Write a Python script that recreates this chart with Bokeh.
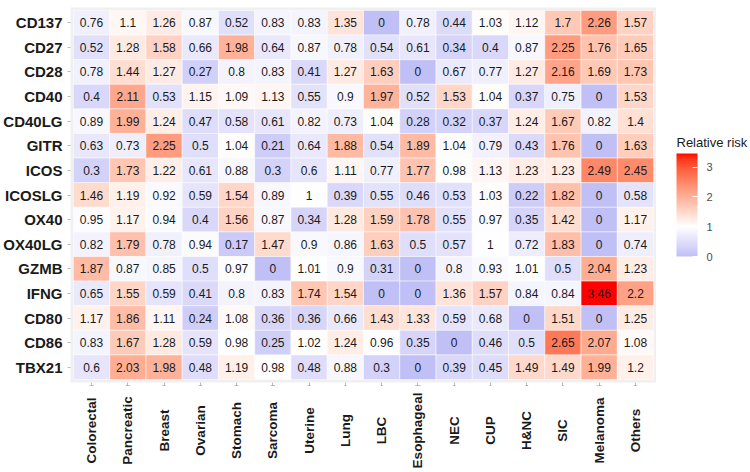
import math
import numpy as np
from bokeh.plotting import figure
from bokeh.models import (ColumnDataSource, LinearColorMapper, ColorBar, FixedTicker,
                          FactorRange, Range1d)
from bokeh.layouts import row, column
from bokeh.core.properties import value
from bokeh.embed import file_html
from bokeh.resources import INLINE

cancers = ["Colorectal", "Pancreatic", "Breast", "Ovarian", "Stomach", "Sarcoma", "Uterine",
           "Lung", "LBC", "Esophageal", "NEC", "CUP", "H&NC", "SIC", "Melanoma", "Others"]
genes = ["CD137", "CD27", "CD28", "CD40", "CD40LG", "GITR", "ICOS", "ICOSLG",
         "OX40", "OX40LG", "GZMB", "IFNG", "CD80", "CD86", "TBX21"]

CD137 = [0.76, 1.1, 1.26, 0.87, 0.52, 0.83, 0.83, 1.35, 0, 0.78, 0.44, 1.03, 1.12, 1.7, 2.26, 1.57]
CD27 = [0.52, 1.28, 1.58, 0.66, 1.98, 0.64, 0.87, 0.78, 0.54, 0.61, 0.34, 0.4, 0.87, 2.25, 1.76, 1.65]
CD28 = [0.78, 1.44, 1.27, 0.27, 0.8, 0.83, 0.41, 1.27, 1.63, 0, 0.67, 0.77, 1.27, 2.16, 1.69, 1.73]
CD40 = [0.4, 2.11, 0.53, 1.15, 1.09, 1.13, 0.55, 0.9, 1.97, 0.52, 1.53, 1.04, 0.37, 0.75, 0, 1.53]
CD40LG = [0.89, 1.99, 1.24, 0.47, 0.58, 0.61, 0.82, 0.73, 1.04, 0.28, 0.32, 0.37, 1.24, 1.67, 0.82, 1.4]
GITR = [0.63, 0.73, 2.25, 0.5, 1.04, 0.21, 0.64, 1.88, 0.54, 1.89, 1.04, 0.79, 0.43, 1.76, 0, 1.63]
ICOS = [0.3, 1.73, 1.22, 0.61, 0.88, 0.3, 0.6, 1.11, 0.77, 1.77, 0.98, 1.13, 1.23, 1.23, 2.49, 2.45]
ICOSLG = [1.46, 1.19, 0.92, 0.59, 1.54, 0.89, 1, 0.39, 0.55, 0.46, 0.53, 1.03, 0.22, 1.82, 0, 0.58]
OX40 = [0.95, 1.17, 0.94, 0.4, 1.56, 0.87, 0.34, 1.28, 1.59, 1.78, 0.55, 0.97, 0.35, 1.42, 0, 1.17]
OX40LG = [0.82, 1.79, 0.78, 0.94, 0.17, 1.47, 0.9, 0.86, 1.63, 0.5, 0.57, 1, 0.72, 1.83, 0, 0.74]
GZMB = [1.87, 0.87, 0.85, 0.5, 0.97, 0, 1.01, 0.9, 0.31, 0, 0.8, 0.93, 1.01, 0.5, 2.04, 1.23]
IFNG = [0.65, 1.55, 0.59, 0.41, 0.8, 0.83, 1.74, 1.54, 0, 0, 1.36, 1.57, 0.84, 0.84, 3.46, 2.2]
CD80 = [1.17, 1.86, 1.11, 0.24, 1.08, 0.36, 0.36, 0.66, 1.43, 1.33, 0.59, 0.68, 0, 1.51, 0, 1.25]
CD86 = [0.83, 1.67, 1.28, 0.59, 0.98, 0.25, 1.02, 1.24, 0.96, 0.35, 0, 0.46, 0.5, 2.65, 2.07, 1.08]
TBX21 = [0.6, 2.03, 1.98, 0.48, 1.19, 0.98, 0.48, 0.88, 0.3, 0, 0.39, 0.45, 1.49, 1.49, 1.99, 1.2]

rows = [CD137, CD27, CD28, CD40, CD40LG, GITR, ICOS, ICOSLG, OX40, OX40LG, GZMB, IFNG, CD80, CD86, TBX21]
legend_ticks = [0, 1, 2, 3]
legend_title = "Relative risk"
midpoint = 1.0

# ---- colour scale (low -> white (midpoint) -> red, interpolated in Lab) ----
def _lin(c):
    c = c / 255.0
    return c / 12.92 if c <= 0.04045 else ((c + 0.055) / 1.055) ** 2.4

def _delin(c):
    c = 12.92 * c if c <= 0.0031308 else 1.055 * c ** (1 / 2.4) - 0.055
    return int(round(min(max(c, 0), 1) * 255))

WP = (0.95047, 1.0, 1.08883)

def rgb2lab(rgb):
    r, g, b = [_lin(c) for c in rgb]
    X = 0.4124 * r + 0.3576 * g + 0.1805 * b
    Y = 0.2126 * r + 0.7152 * g + 0.0722 * b
    Z = 0.0193 * r + 0.1192 * g + 0.9505 * b
    def f(t):
        return t ** (1 / 3) if t > (6 / 29) ** 3 else t / (3 * (6 / 29) ** 2) + 4 / 29
    fx, fy, fz = f(X / WP[0]), f(Y / WP[1]), f(Z / WP[2])
    return (116 * fy - 16, 500 * (fx - fy), 200 * (fy - fz))

def lab2hex(lab):
    L, a, b = lab
    fy = (L + 16) / 116
    fx = fy + a / 500
    fz = fy - b / 200
    def finv(t):
        return t ** 3 if t > 6 / 29 else 3 * (6 / 29) ** 2 * (t - 4 / 29)
    X, Y, Z = WP[0] * finv(fx), WP[1] * finv(fy), WP[2] * finv(fz)
    r = 3.2406 * X - 1.5372 * Y - 0.4986 * Z
    g = -0.9689 * X + 1.8758 * Y + 0.0415 * Z
    bb = 0.0557 * X - 0.2040 * Y + 1.0570 * Z
    return "#%02x%02x%02x" % (_delin(r), _delin(g), _delin(bb))

LOW = rgb2lab((192, 192, 246))
MID = rgb2lab((255, 255, 255))
HIGH = rgb2lab((255, 0, 0))
vmin = min(min(r) for r in rows)
vmax = max(max(r) for r in rows)

def colour(v):
    if v <= midpoint:
        u = (v - vmin) / (midpoint - vmin)
        lab = tuple(LOW[i] + (MID[i] - LOW[i]) * u for i in range(3))
    else:
        u = (v - midpoint) / (vmax - midpoint)
        lab = tuple(MID[i] + (HIGH[i] - MID[i]) * u for i in range(3))
    return lab2hex(lab)

palette = [colour(v) for v in np.linspace(vmin, vmax, 256)]
mapper = LinearColorMapper(palette=palette, low=vmin, high=vmax)

# ---- data table ----
xs, ys, vals, txt = [], [], [], []
for g, r in zip(genes, rows):
    for c, v in zip(cancers, r):
        xs.append(c)
        ys.append(g)
        vals.append(v)
        txt.append(f"{v:g}")
src = ColumnDataSource(dict(x=xs, y=ys, val=vals, txt=txt))

FONT = "Liberation Sans"
LEFT = 68
HEAT_W, HEAT_H = 656, 389
LAB_H = 81
LEG_W = 92
TOTAL_H = HEAT_H + LAB_H

xr = FactorRange(factors=cancers, range_padding=0.08, range_padding_units="absolute")
yr = FactorRange(factors=list(reversed(genes)), range_padding=0.12, range_padding_units="absolute")

p = figure(width=HEAT_W, height=HEAT_H, x_range=xr, y_range=yr, output_backend="svg",
           toolbar_location=None, min_border_left=LEFT, min_border_right=0,
           min_border_top=7, min_border_bottom=6)
p.background_fill_color = "#F0F0F0"
p.border_fill_color = "white"
p.outline_line_color = None
p.grid.grid_line_color = None

p.rect(x="x", y="y", width=1, height=1, source=src,
       fill_color={"field": "val", "transform": mapper},
       line_color="white", line_alpha=0.5, line_width=1)
p.text(x="x", y="y", text="txt", source=src, text_align="center", text_baseline="middle",
       text_font_size="12px", text_color="#1a1a1a", text_font=value(FONT))

p.axis.axis_line_color = None
p.axis.major_tick_line_color = "#BBBBBB"
p.axis.major_tick_out = 3
p.axis.major_tick_in = 0
p.yaxis.major_label_text_font = FONT
p.yaxis.major_label_text_font_style = "bold"
p.yaxis.major_label_text_font_size = "15px"
p.yaxis.major_label_text_color = "#1a1a1a"
p.yaxis.major_label_standoff = 5
p.xaxis.major_label_overrides = {c: " " for c in cancers}
p.xaxis.major_label_text_font_size = "1px"
p.xaxis.major_label_standoff = 0

# ---- x category labels: rotated and centred, in a strip that shares the x range ----
pl = figure(width=HEAT_W, height=LAB_H, x_range=xr, y_range=Range1d(LAB_H, 0),
            output_backend="svg", toolbar_location=None, x_axis_location=None,
            y_axis_location=None, min_border_left=LEFT, min_border_right=0,
            min_border_top=0, min_border_bottom=0)
pl.outline_line_color = None
pl.grid.grid_line_color = None
pl.background_fill_color = "white"
lab_src = ColumnDataSource(dict(x=cancers, t=cancers))
pl.text(x="x", y=41, text="t", source=lab_src, angle=math.pi / 2,
        text_align="center", text_baseline="middle", text_font=value(FONT),
        text_font_style="bold", text_font_size="13.5px", text_color="#1a1a1a")

# ---- legend strip ----
pg = figure(width=LEG_W, height=TOTAL_H, x_range=Range1d(0, LEG_W), y_range=Range1d(TOTAL_H, 0),
            output_backend="svg", toolbar_location=None, x_axis_location=None,
            y_axis_location=None, min_border_left=0, min_border_right=0,
            min_border_top=0, min_border_bottom=0)
pg.outline_line_color = None
pg.grid.grid_line_color = None
pg.background_fill_color = "white"
pg.text(x=20, y=142, text=[legend_title], text_align="left", text_baseline="middle",
        text_font=value(FONT), text_font_size="13px", text_color="#1a1a1a")
cb = ColorBar(color_mapper=mapper, ticker=FixedTicker(ticks=legend_ticks),
              width=21, height=103, location=(20, TOTAL_H - 256), padding=0, margin=0,
              major_label_text_font=FONT, major_label_text_font_size="11px",
              major_label_text_color="#4d4d4d", label_standoff=9,
              major_tick_line_color="white", major_tick_in=5, major_tick_out=0,
              bar_line_color=None, border_line_color=None, background_fill_color=None)
pg.add_layout(cb, "center")

layout = row(column(p, pl), pg)
open("out.html", "w").write(file_html(layout, INLINE))
